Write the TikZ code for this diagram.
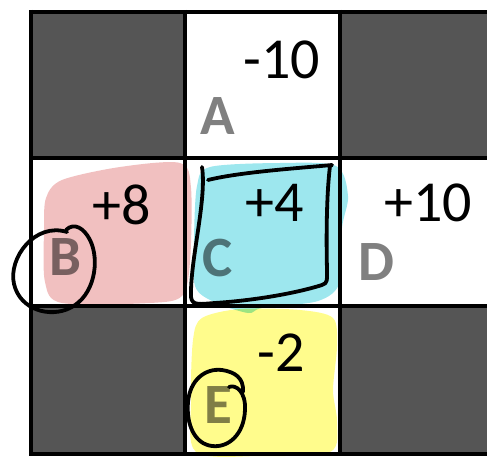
\documentclass[tikz,border=0pt]{standalone}
\usepackage{fontspec}
\setmainfont{Carlito}

\definecolor{wall}{RGB}{85,85,85}
\definecolor{labelgray}{RGB}{128,128,128}
\definecolor{pinkmark}{RGB}{241,192,192}
\definecolor{cyanmark}{RGB}{157,231,238}
\definecolor{yellowmark}{RGB}{255,252,140}

\begin{document}
\begin{tikzpicture}[x=1pt,y=-1pt,
  reward/.style={font=\fontsize{58}{60}\selectfont, inner sep=0pt},
  statelbl/.style={font=\fontsize{57}{60}\selectfont\bfseries, text=labelgray, inner sep=0pt},
  pen/.style={line width=3.8pt, line cap=round, line join=round}]
  \useasboundingbox (0,0) rectangle (487,457);

  % blocked cells
  \fill[wall] (31,12) rectangle (500,158);
  \fill[wall] (31,306) rectangle (185,454);
  \fill[wall] (340,306) rectangle (500,454);
  \fill[white] (185,12) rectangle (340,158);

  % rewards and state letters
  \node[reward] (rewA) at (282,60) {-10};
  \node[statelbl] (stateA) at (218,116) {A};
  \node[reward] (rewB) at (122,205) {+8};
  \node[statelbl] (stateB) at (65,257) {B};
  \node[reward] (rewC) at (275,203) {+4};
  \node[statelbl] (stateC) at (218,258) {C};
  \node[reward] (rewD) at (428,203) {+10};
  \node[statelbl] (stateD) at (376,262) {D};
  \node[reward] (rewE) at (281,353) {-2};
  \node[statelbl] (stateE) at (218,405) {E};

  % highlighter marks
  \begin{scope}[blend mode=multiply]
    \fill[pinkmark] plot[smooth cycle, tension=0.5] coordinates {(46,198) (62,180) (120,167) (180,163) (191,188) (190,262) (182,296) (150,303) (62,303) (45,282) (44,230)};
    \fill[cyanmark] plot[smooth cycle, tension=0.5] coordinates {(197,186) (210,167) (280,163) (336,166) (348,196) (342,228) (340,282) (318,301) (262,308) (248,313) (214,302) (195,286) (194,240)};
    \fill[yellowmark] plot[smooth cycle, tension=0.5] coordinates {(193,340) (202,318) (240,309) (300,310) (333,318) (337,346) (333,390) (337,422) (330,452) (260,456) (196,452) (191,400)};
  \end{scope}

  % grid
  \draw[line width=4.5pt] (31,12) -- (500,12);
  \draw[line width=4.5pt] (31,158) -- (500,158);
  \draw[line width=4.5pt] (31,306) -- (500,306);
  \draw[line width=4.5pt] (31,454) -- (500,454);
  \draw[line width=4.5pt] (31,10) -- (31,456);
  \draw[line width=4.5pt] (185,10) -- (185,456);
  \draw[line width=4.5pt] (340,10) -- (340,456);

  % pen marks
  \draw[pen] (67,232) .. controls (35,222) and (8,258) .. (14,284) .. controls (20,310) and (50,318) .. (70,308) .. controls (95,296) and (100,260) .. (90,240) .. controls (84,228) and (74,222) .. (66,230);
  \draw[pen] (202,167) .. controls (207,200) and (190,260) .. (191,297) .. controls (192,306) and (200,304) .. (215,303) .. controls (260,300) and (300,292) .. (322,285) .. controls (328,283) and (327,280) .. (327,270) .. controls (326,230) and (327,190) .. (330,166) -- (332,165) .. controls (300,168) and (240,172) .. (208,180);
  \draw[pen] (229,387) .. controls (236,384) and (246,392) .. (245,410) .. controls (244,435) and (228,448) .. (212,446) .. controls (195,444) and (186,425) .. (188,402) .. controls (190,380) and (205,368) .. (222,370) .. controls (235,372) and (244,378) .. (243,392);
\end{tikzpicture}
\end{document}
